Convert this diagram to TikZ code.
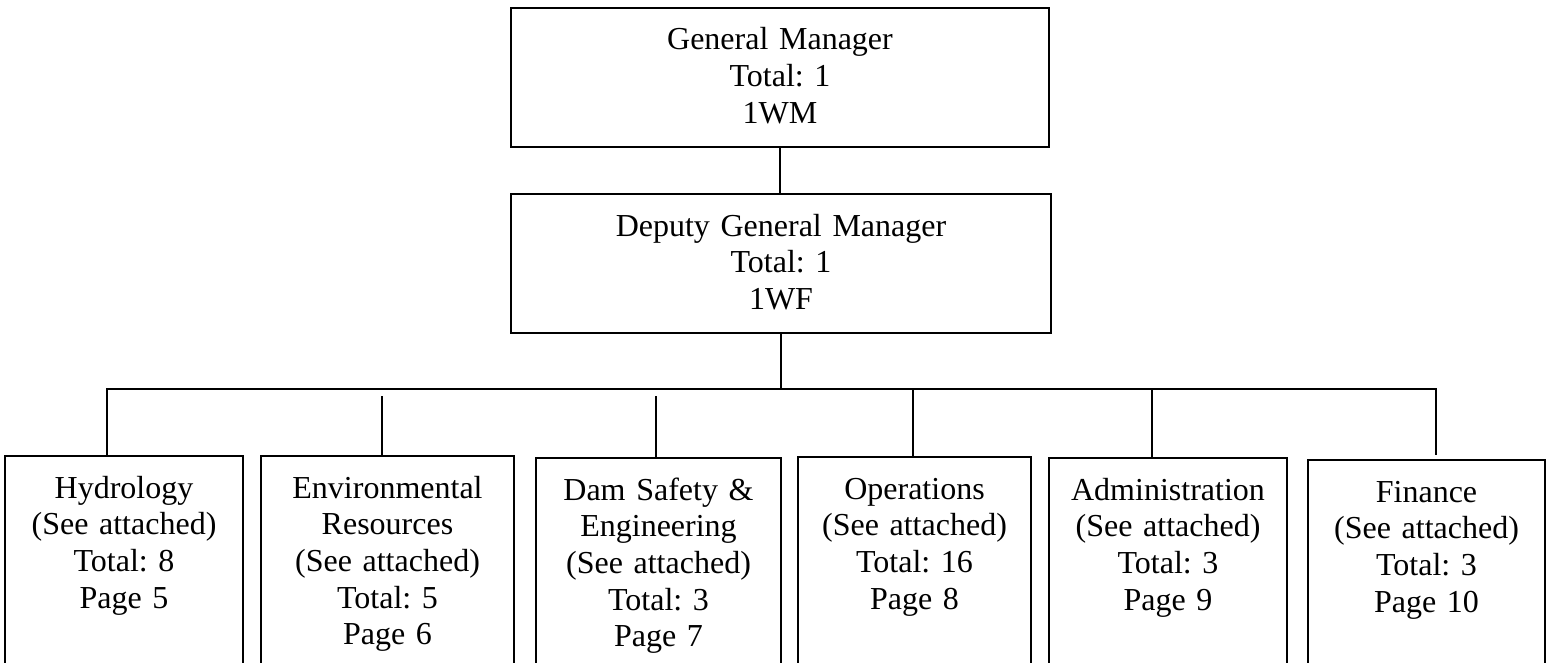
\documentclass[tikz,border=0pt]{standalone}
\usepackage{fontspec}
\setmainfont{Liberation Serif}
\usetikzlibrary{calc}
\frenchspacing

\begin{document}
\begin{tikzpicture}[x=0.5pt,y=-0.5pt,line width=1pt,
    unit/.style={draw,anchor=north,align=center,inner sep=0pt,
      font=\fontsize{16}{18.35}\selectfont,text height=21pt,text depth=#1},
    unit/.default=125pt]
    \useasboundingbox (0,0) rectangle (1546,663);

    \node[unit=48.5pt,text width=269pt] (GM) at (780,7) {General Manager\\Total: 1\\1WM};
    \node[unit=48.5pt,text width=270pt] (DGM) at (781,193) {Deputy General Manager\\Total: 1\\1WF};

    \node[unit,text width=119pt] (HYD) at (124,455) {Hydrology\\(See attached)\\Total: 8\\Page 5};
    \node[unit,text width=126.5pt] (ENV) at (387.5,455) {Environmental\\Resources\\(See attached)\\Total: 5\\Page 6};
    \node[unit,text width=122.5pt] (DAM) at (658.5,457) {Dam Safety \&\\Engineering\\(See attached)\\Total: 3\\Page 7};
    \node[unit,text width=116.5pt] (OPS) at (914.5,456) {Operations\\(See attached)\\Total: 16\\Page 8};
    \node[unit,text width=119pt] (ADM) at (1168,457) {Administration\\(See attached)\\Total: 3\\Page 9};
    \node[unit,text width=118.5pt] (FIN) at (1426.5,459) {Finance\\(See attached)\\Total: 3\\Page 10};

    \coordinate (L) at (107,389);
    \coordinate (R) at (1436,389);
    \coordinate (tENV) at (382,396);
    \coordinate (tDAM) at (656,396);
    \coordinate (tOPS) at (913,389);
    \coordinate (tADM) at (1152,389);

    \draw (GM.south) -- (GM.south |- DGM.north);
    \draw (DGM.south) -- (DGM.south |- L);
    \draw (HYD.north -| L) -- (L) -- (R) -- ([yshift=2pt]FIN.north -| R);
    \draw (tENV) -- (tENV |- ENV.north);
    \draw (tDAM) -- (tDAM |- DAM.north);
    \draw (tOPS) -- (tOPS |- OPS.north);
    \draw (tADM) -- (tADM |- ADM.north);
\end{tikzpicture}
\end{document}
